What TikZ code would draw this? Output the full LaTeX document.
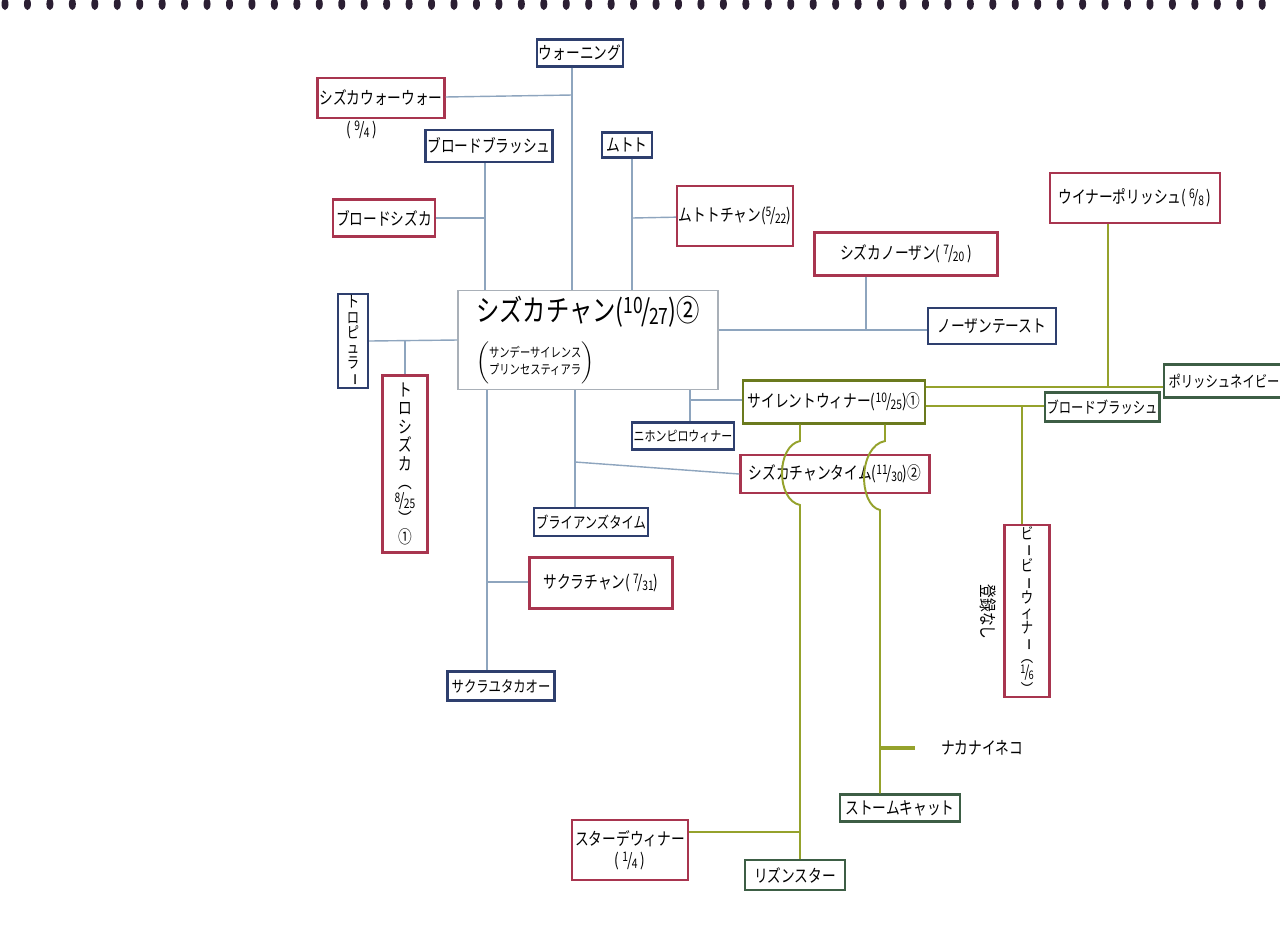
\documentclass[tikz,border=0pt]{standalone}
\usepackage{fontspec}
\setmainfont{Noto Sans CJK JP}[FakeStretch=0.78]
\definecolor{marered}{HTML}{A8354F}
\definecolor{sireblue}{HTML}{2E3F6E}
\definecolor{studgreen}{HTML}{3D5E45}
\definecolor{winnerolive}{HTML}{6B7A1E}
\definecolor{linkblue}{HTML}{8EA5BE}
\definecolor{linkgreen}{HTML}{95A22C}
\definecolor{mainedge}{HTML}{A9B0B8}
\definecolor{holecol}{HTML}{2B1F33}
\newcommand{\datefr}[2]{\raisebox{0.5ex}{\scalebox{0.75}{#1}}\kern-0.05em/\kern-0.05em\raisebox{-0.2ex}{\scalebox{0.75}{#2}}}
\newcommand{\tatebar}{\rotatebox[origin=c]{-90}{ー}}

\begin{document}
\begin{tikzpicture}[x=0.02cm, y=-0.02cm,
	mare/.style={shape=rectangle, draw=marered, line width=1.4pt, fill=white, inner sep=1pt, font=\fontsize{10}{12}\selectfont},
	sire/.style={shape=rectangle, draw=sireblue, line width=1.4pt, fill=white, inner sep=1pt, font=\fontsize{10}{12}\selectfont},
	stud/.style={shape=rectangle, draw=studgreen, line width=1.4pt, fill=white, inner sep=1pt, font=\fontsize{10}{12}\selectfont},
	link/.style={draw=linkblue, line width=0.8pt},
	glink/.style={draw=linkgreen, line width=1.1pt}]
			\useasboundingbox (0,0) rectangle (1280,931);
			\fill[white] (0,0) rectangle (1280,931);
			%Spiral holes:
			\foreach \i in {0,...,56}
				\fill[holecol] (5+22.45*\i, 4) ellipse [x radius=3.5, y radius=6];
			%Main cat:
			\path
				(588,340) node[shape=rectangle, draw=mainedge, line width=0.8pt, fill=white, minimum width=5.2cm, minimum height=1.88cm, align=left] (main)
					{{\fontsize{17}{20}\selectfont シズカチャン(\datefr{10}{27})②}\\[7pt]
					{\fontsize{7.5}{10}\selectfont$\left(\begin{tabular}{@{}l@{}}サンデーサイレンス\\プリンセスティアラ\end{tabular}\right)$}};
			%Red boxes:
			\path
				(381,98) node[mare, minimum width=2.54cm, minimum height=0.8cm] (shizukawao) {シズカウォーウォー}
				(362,130) node[font=\fontsize{10}{12}\selectfont] (waodate) {(\,\datefr{9}{4}\,)}
				(384,218) node[mare, minimum width=2.04cm, minimum height=0.74cm] (broadshizuka) {ブロードシズカ}
				(735,216) node[mare, minimum width=2.28cm, minimum height=1.2cm] (mutotochan) {ムトトチャン(\datefr{5}{22})}
				(906,254) node[mare, minimum width=3.66cm, minimum height=0.86cm] (shizukanorthern) {シズカノーザン(\,\datefr{7}{20}\,)}
				(1135,198) node[mare, minimum width=3.4cm, minimum height=1.0cm] (winnerpolish) {ウイナーポリッシュ(\,\datefr{6}{8}\,)}
				(405,464) node[mare, minimum width=0.9cm, minimum height=3.54cm, align=center, font=\fontsize{10}{10.5}\selectfont] (troshizuka)
					{ト\\ロ\\シ\\ズ\\カ\\︵\\\datefr{8}{25}\\︶\\①}
				(835,474) node[mare, minimum width=3.78cm, minimum height=0.76cm] (shizukatime) {シズカチャンタイム(\datefr{11}{30})②}
				(601,583) node[mare, minimum width=2.86cm, minimum height=1.02cm] (sakurachan) {サクラチャン(\,\datefr{7}{31})}
				(1027,611) node[mare, minimum width=0.9cm, minimum height=3.24cm, align=center, font=\fontsize{9}{8.4}\selectfont] (bbwinner)
					{ビ\\\tatebar\\ビ\\\tatebar\\ウ\\ィ\\ナ\\\tatebar\\︵\\\datefr{1}{6}\\︶}
				(630,850) node[mare, minimum width=2.32cm, minimum height=1.2cm, align=center] (stardewinner) {スターデウィナー\\(\,\datefr{1}{4}\,)};
			%Blue boxes:
			\path
				(580,53) node[sire, minimum width=1.7cm, minimum height=0.54cm] (warning) {ウォーニング}
				(489,146) node[sire, minimum width=2.36cm, minimum height=0.64cm] (broadbrushB) {ブロードブラッシュ}
				(627,145) node[sire, minimum width=1.0cm, minimum height=0.5cm] (mutoto) {ムトト}
				(992,326) node[sire, minimum width=2.56cm, minimum height=0.72cm] (northerntaste) {ノーザンテースト}
				(353,341) node[sire, minimum width=0.6cm, minimum height=1.84cm, align=center, font=\fontsize{9}{8.6}\selectfont] (tropular)
					{ト\\ロ\\ピ\\ュ\\ラ\\\tatebar}
				(683,436) node[sire, minimum width=1.88cm, minimum height=0.54cm, font=\fontsize{8}{10}\selectfont] (nihonpiro) {ニホンピロウィナー}
				(591,522) node[sire, minimum width=2.14cm, minimum height=0.56cm, font=\fontsize{9}{11}\selectfont] (brianstime) {ブライアンズタイム}
				(501,686) node[sire, minimum width=2.14cm, minimum height=0.58cm, font=\fontsize{9}{11}\selectfont] (sakurayutaka) {サクラユタカオー};
			%Green boxes:
			\path
				(834,402) node[stud, draw=winnerolive, minimum width=3.64cm, minimum height=0.86cm] (silentwinner) {サイレントウィナー(\datefr{10}{25})①}
				(1224,381) node[stud, minimum width=2.4cm, minimum height=0.66cm, font=\fontsize{9}{11}\selectfont] (polishnavy) {ポリッシュネイビー}
				(1102,407) node[stud, minimum width=2.1cm, minimum height=0.58cm, font=\fontsize{9}{11}\selectfont] (broadbrushG) {ブロードブラッシュ}
				(900,808) node[stud, minimum width=2.4cm, minimum height=0.54cm] (stormcat) {ストームキャット}
				(795,875) node[stud, minimum width=2.0cm, minimum height=0.6cm] (rizunstar) {リズンスター};
			%Loose texts:
			\path
				(982,748) node[font=\fontsize{10}{12}\selectfont] (nakanaineko) {ナカナイネコ}
				(988,612) node[rotate=-90, font=\fontsize{10}{12}\selectfont] (nashi) {登録なし};
			%Blue links:
			\coordinate (wj) at (572,95);
			\coordinate (bj) at (485,218);
			\coordinate (mj) at (632,218);
			\coordinate (nj) at (866,330);
			\coordinate (tj) at (405,340);
			\coordinate (sj) at (487,582);
			\coordinate (bt) at (575,462);
			\coordinate (nw) at (690,400);
			\draw[link] (warning.south -| wj) -- (wj |- main.north);
			\draw[link] (shizukawao) -- (wj);
			\draw[link] (broadbrushB.south -| bj) -- (bj |- main.north);
			\draw[link] (broadshizuka) -- (bj);
			\draw[link] (mutoto.south -| mj) -- (mj |- main.north);
			\draw[link] (mj) -- (mutotochan);
			\draw[link] (main.east |- nj) -- (northerntaste.west |- nj);
			\draw[link] (shizukanorthern.south -| nj) -- (nj);
			\draw[link] (main.west) -- (tropular.east);
			\draw[link] (tj) -- (troshizuka);
			\draw[link] (main.south -| sj) -- (sakurayutaka.north -| sj);
			\draw[link] (sj) -- (sakurachan.west |- sj);
			\draw[link] (main.south -| bt) -- (brianstime.north -| bt);
			\draw[link] (bt) -- (shizukatime.west);
			\draw[link] (main.south -| nw) -- (nihonpiro.north -| nw);
			\draw[link] (nw) -- (silentwinner.west |- nw);
			%Green links:
			\coordinate (pj) at (1108,387);
			\coordinate (gj) at (1022,406);
			\coordinate (ja1) at (800,441);
			\coordinate (ja2) at (800,505);
			\coordinate (sdj) at (800,832);
			\coordinate (jb1) at (885,441);
			\coordinate (jb2) at (880,510);
			\coordinate (nkj) at (880,748);
			\draw[glink] (winnerpolish.south -| pj) -- (pj);
			\draw[glink] (silentwinner.east |- pj) -- (polishnavy.west |- pj);
			\draw[glink] (silentwinner.east |- gj) -- (broadbrushG.west |- gj);
			\draw[glink] (gj) -- (bbwinner.north -| gj);
			\draw[glink] (silentwinner.south -| ja1) -- (ja1) .. controls (776,446) and (776,500) .. (ja2) -- (rizunstar.north -| ja2);
			\draw[glink] (sdj) -- (stardewinner.east |- sdj);
			\draw[glink] (silentwinner.south -| jb1) -- (jb1) .. controls (858,446) and (858,505) .. (jb2) -- (stormcat.north -| jb2);
			\draw[glink, line width=2pt, shorten >=0.4cm] (nkj) -- (nakanaineko.west);
\end{tikzpicture}
\end{document}
